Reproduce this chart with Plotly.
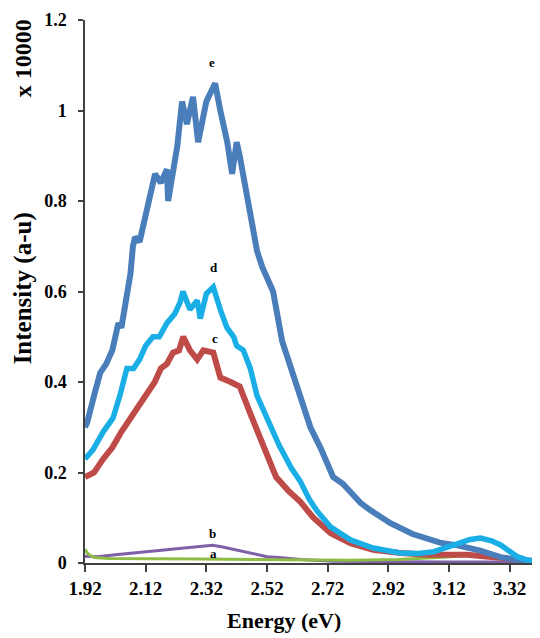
import plotly.graph_objects as go

# ---- data ----
x_ticks = [1.92, 2.12, 2.32, 2.52, 2.72, 2.92, 3.12, 3.32]
y_ticks = [0, 0.2, 0.4, 0.6, 0.8, 1.0, 1.2]

e_energy = [1.92, 1.927, 1.95, 1.97, 1.99, 2.01, 2.03, 2.04, 2.06, 2.07, 2.078, 2.085, 2.10, 2.125,
            2.151, 2.17, 2.19, 2.194, 2.21, 2.224, 2.24, 2.256, 2.276, 2.293, 2.32, 2.349, 2.366,
            2.389, 2.405, 2.42, 2.43, 2.455, 2.487, 2.504, 2.54, 2.57, 2.59, 2.63, 2.663, 2.696,
            2.738, 2.77, 2.828, 2.86, 2.927, 3.0, 3.09, 3.148, 3.22, 3.29, 3.355, 3.42]
e_int = [0.30, 0.31, 0.37, 0.42, 0.44, 0.47, 0.53, 0.52, 0.60, 0.64, 0.70, 0.72, 0.71, 0.79,
         0.86, 0.84, 0.87, 0.80, 0.86, 0.92, 1.02, 0.97, 1.03, 0.93, 1.02, 1.06, 1.00,
         0.93, 0.86, 0.93, 0.90, 0.81, 0.69, 0.655, 0.60, 0.49, 0.45, 0.37, 0.30, 0.255,
         0.19, 0.175, 0.133, 0.117, 0.088, 0.064, 0.045, 0.039, 0.028, 0.013, 0.006, 0.004]

d_energy = [1.92, 1.946, 1.98, 2.012, 2.035, 2.058, 2.08, 2.10, 2.12, 2.144, 2.165, 2.19, 2.215,
            2.233, 2.243, 2.266, 2.29, 2.30, 2.32, 2.343, 2.366, 2.388, 2.41, 2.42, 2.442, 2.465,
            2.487, 2.52, 2.56, 2.60, 2.63, 2.66, 2.685, 2.729, 2.795, 2.87, 2.96, 3.02, 3.07,
            3.11, 3.148, 3.19, 3.224, 3.26, 3.29, 3.32, 3.345, 3.38, 3.42]
d_int = [0.23, 0.25, 0.29, 0.32, 0.37, 0.43, 0.43, 0.45, 0.48, 0.50, 0.50, 0.53, 0.55,
         0.575, 0.60, 0.56, 0.58, 0.54, 0.595, 0.61, 0.56, 0.52, 0.50, 0.48, 0.47, 0.43,
         0.37, 0.32, 0.26, 0.21, 0.18, 0.14, 0.115, 0.08, 0.051, 0.033, 0.022, 0.021, 0.025,
         0.034, 0.044, 0.052, 0.055, 0.049, 0.04, 0.026, 0.014, 0.006, 0.003]

c_energy = [1.92, 1.95, 1.98, 2.01, 2.04, 2.07, 2.10, 2.125, 2.15, 2.17, 2.19, 2.21, 2.23,
            2.244, 2.266, 2.29, 2.31, 2.343, 2.366, 2.40, 2.43, 2.465, 2.497, 2.52, 2.55,
            2.59, 2.63, 2.673, 2.73, 2.795, 2.87, 2.96, 3.05, 3.18, 3.29, 3.35, 3.42]
c_int = [0.19, 0.20, 0.23, 0.255, 0.29, 0.32, 0.35, 0.38, 0.40, 0.43, 0.44, 0.465, 0.47,
         0.50, 0.47, 0.45, 0.47, 0.465, 0.41, 0.40, 0.39, 0.33, 0.28, 0.245, 0.19,
         0.16, 0.135, 0.10, 0.066, 0.044, 0.029, 0.022, 0.018, 0.018, 0.011, 0.006, 0.003]

b_energy = [1.92, 1.96, 2.02, 2.11, 2.21, 2.30, 2.34, 2.37, 2.41, 2.455, 2.52, 2.56, 2.63,
            2.74, 2.9, 3.1, 3.42]
b_int = [0.015, 0.014, 0.018, 0.024, 0.031, 0.036, 0.039, 0.036, 0.030, 0.024, 0.014, 0.012,
         0.008, 0.004, 0.003, 0.002, 0.002]

a_energy = [1.92, 1.93, 1.95, 2.0, 2.3, 2.6, 2.8, 2.95, 3.05, 3.115, 3.21, 3.26, 3.31, 3.36, 3.42]
a_int = [0.03, 0.02, 0.012, 0.010, 0.009, 0.007, 0.006, 0.008, 0.011, 0.013, 0.019, 0.018,
         0.012, 0.007, 0.004]

curve_labels = ["a", "b", "c", "d", "e"]
label_x = [2.345, 2.34, 2.348, 2.345, 2.34]
label_y = [0.022, 0.066, 0.497, 0.652, 1.105]

# ---- figure ----
fig = go.Figure()
series = [
    (b_energy, b_int, "#7f5fa8", 3),
    (a_energy, a_int, "#8fbc45", 3),
    (c_energy, c_int, "#be4b48", 6),
    (e_energy, e_int, "#4a7ebb", 6),
    (d_energy, d_int, "#1aaee6", 5.5),
]
for xs, ys, col, w in series:
    fig.add_trace(go.Scatter(x=xs, y=ys, mode="lines",
                             line=dict(color=col, width=w), showlegend=False,
                             hoverinfo="skip"))

serif = "Liberation Serif"
for t, xv, yv in zip(curve_labels, label_x, label_y):
    fig.add_annotation(x=xv, y=yv, text=t, showarrow=False,
                       font=dict(family=serif, size=13, color="black", weight="bold"))

fig.add_annotation(xref="paper", yref="paper", x=0.437, y=-0.105, text="Energy (eV)",
                   showarrow=False, xanchor="center", yanchor="middle",
                   font=dict(family=serif, size=22, color="black", weight="bold"))
fig.add_annotation(xref="paper", yref="paper", x=-0.136, y=0.506, text="Intensity (a-u)",
                   showarrow=False, xanchor="center", yanchor="middle", textangle=-90,
                   font=dict(family=serif, size=25, color="black", weight="bold"))
fig.add_annotation(xref="paper", yref="paper", x=-0.136, y=0.93, text="x 10000",
                   showarrow=False, xanchor="center", yanchor="middle", textangle=-90,
                   font=dict(family=serif, size=24, color="black", weight="bold"))

# page has an 8px body margin, so the figure is sized to the visible area
fig.update_layout(
    width=532, height=630,
    margin=dict(l=77, r=0, t=12, b=75),
    paper_bgcolor="white", plot_bgcolor="white",
    xaxis=dict(range=[1.92, 3.42], tickvals=x_ticks, ticktext=[f"{v:.2f}" for v in x_ticks],
               showgrid=False, zeroline=False, showline=True, linecolor="#404040", linewidth=1.5,
               ticks="outside", ticklen=7, tickcolor="#404040", tickwidth=1.5,
               tickfont=dict(family=serif, size=19, color="black", weight="bold")),
    yaxis=dict(range=[0, 1.2], tickvals=y_ticks, ticktext=["0", "0.2", "0.4", "0.6", "0.8", "1", "1.2"],
               showgrid=False, zeroline=False, showline=True, linecolor="#404040", linewidth=1.5,
               ticks="outside", ticklen=5, tickcolor="#404040", tickwidth=1.5,
               ticklabelstandoff=8,
               tickfont=dict(family=serif, size=18, color="black", weight="bold")),
)

fig.write_html("out.html")
